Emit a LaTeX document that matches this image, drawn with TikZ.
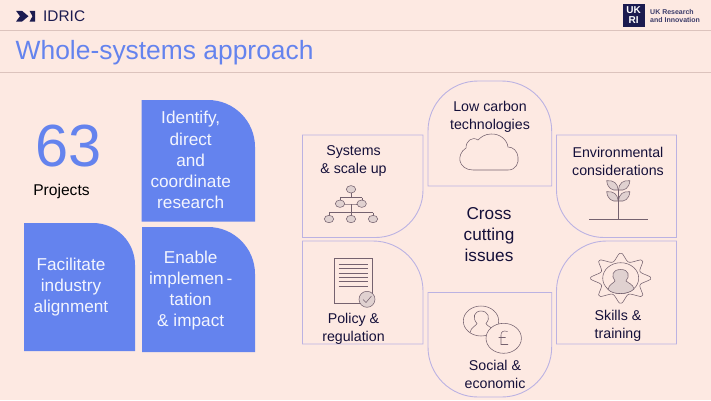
\documentclass[tikz,border=0pt]{standalone}
\usepackage{fontspec}
\setmainfont{Liberation Sans}
\definecolor{bgc}{HTML}{FDE9E2}
\definecolor{bluec}{HTML}{6483EE}
\definecolor{edgec}{HTML}{BBB2E2}
\definecolor{rulec}{HTML}{DCC3BD}
\definecolor{inkc}{HTML}{15103A}
\definecolor{iconc}{HTML}{75626F}
\definecolor{iconf}{HTML}{E0D1D0}
\definecolor{navyc}{HTML}{1B1B50}
\tikzset{
  lab/.style={inner sep=0pt,align=center,text=inkc,font=\fontsize{14.2}{18}\selectfont},
  wlab/.style={inner sep=0pt,align=center,text=white!92!bluec,font=\fontsize{17.2}{21.2}\selectfont},
  tile/.style={fill=bluec,draw=none},
  frame/.style={draw=edgec,line width=0.9pt,line join=miter},
  ico/.style={draw=iconc,line width=0.55pt},
  icof/.style={draw=iconc,fill=iconf,line width=0.55pt}
}
\begin{document}
\begin{tikzpicture}[x=1pt,y=-1pt]
\useasboundingbox (0,0) rectangle (711,400);
\fill[bgc] (0,0) rectangle (711,400);
% header
\draw[rulec,line width=0.7pt] (0,30.3) -- (711,30.3);
\draw[rulec,line width=0.7pt] (0,72.3) -- (711,72.3);
\fill[navyc] (16,10.8) -- (22,10.8) -- (28.5,16.2) -- (22,21.6) -- (16,21.6) -- (20,16.2) -- cycle;
\fill[navyc] (29.5,10.8) -- (35,10.8) -- (35,21.6) -- (29.5,21.6) -- (32.5,16.2) -- cycle;
\node[inner sep=0pt,anchor=west,text=navyc,font=\fontsize{15.4}{18}\selectfont] (brand) at (43,16) {IDRIC};
\node[inner sep=0pt,anchor=west,text=bluec,font=\fontsize{26.4}{30}\selectfont] (title) at (15.5,53) {Whole-systems approach};
\fill[navyc] (622.7,4) rectangle (644.5,26.7);
\node[inner sep=0pt,text=white,font=\bfseries\fontsize{10}{10}\selectfont] (lgu) at (633.6,10.5) {UK};
\node[inner sep=0pt,text=white,font=\bfseries\fontsize{10}{10}\selectfont] (lgr) at (633.6,20.5) {RI};
\node[inner sep=0pt,anchor=west,align=left,text=navyc!85!white,font=\bfseries\fontsize{7}{8}\selectfont] (lgt) at (650,16) {UK Research\\and Innovation};
% left
\node[inner sep=0pt,text=bluec,font=\fontsize{59.5}{60}\selectfont] (num) at (69,146.5) {63};
\node[inner sep=0pt,text=black,font=\fontsize{15.6}{18}\selectfont] (proj) at (61.5,191) {Projects};
\path[tile] (141.5,100) -- (208,100) arc[start angle=-90,end angle=0,x radius=47,y radius=47] -- (255,221.5) -- (141.5,221.5) -- cycle;
\path[tile] (24,223) -- (93,223) arc[start angle=-90,end angle=0,x radius=42,y radius=42] -- (135,351) -- (24,351) -- cycle;
\path[tile] (142,227) -- (208,227) arc[start angle=-90,end angle=0,x radius=47,y radius=47] -- (255,352) -- (142,352) -- cycle;
\node[wlab] (t1) at (190.7,160.2) {Identify,\\direct\\and\\coordinate\\research};
\node[wlab] (t2) at (71,287) {Facilitate\\industry\\alignment};
\node[wlab] (t3) at (190.7,290.7) {Enable\\implemen\,-\\tation\\\& impact};
% right frames
\draw[frame] (302.5,135) -- (423,135) -- (423,190) arc[start angle=0,end angle=90,x radius=47.5,y radius=47.5] -- (302.5,237.5) -- cycle;
\draw[frame] (428,186) -- (428,131) arc[start angle=180,end angle=270,x radius=50,y radius=50] -- (501.7,81) arc[start angle=-90,end angle=0,x radius=50,y radius=50] -- (551.7,186) -- cycle;
\draw[frame] (556.5,135) -- (676.5,135) -- (676.5,237.5) -- (604,237.5) arc[start angle=90,end angle=180,x radius=47.5,y radius=47.5] -- cycle;
\draw[frame] (302.5,241) -- (373,241) arc[start angle=-90,end angle=0,x radius=50,y radius=50] -- (423,344) -- (302.5,344) -- cycle;
\draw[frame] (428,292.5) -- (551.7,292.5) -- (551.7,347) arc[start angle=0,end angle=90,x radius=50,y radius=50] -- (478,397) arc[start angle=90,end angle=180,x radius=50,y radius=50] -- cycle;
\draw[frame] (556.5,291) arc[start angle=180,end angle=270,x radius=50,y radius=50] -- (676.5,241) -- (676.5,344) -- (556.5,344) -- cycle;
% labels
\node[lab] (a) at (353.5,161.5) {Systems\\\& scale up};
\node[lab] (b) at (490,116.5) {Low carbon\\technologies};
\node[lab] (c) at (618,161.5) {Environmental\\considerations};
\node[lab] (d) at (353.5,329) {Policy \&\\regulation};
\node[lab] (e) at (495,374.5) {Social \&\\economic};
\node[lab] (f) at (618,325.5) {Skills \&\\training};
\node[inner sep=0pt,align=center,text=inkc,font=\fontsize{17.2}{21}\selectfont] (g) at (489,235) {Cross\\cutting\\issues};
% tree icon
\draw[ico] (351,189) -- (351,197.5) (340,197.5) -- (362,197.5) (340,197.5) -- (340,204) (362,197.5) -- (362,204);
\draw[ico] (351,204) -- (351,212.5) (329,212.5) -- (373,212.5) (329,212.5) -- (329,219) (351,212.5) -- (351,219) (373,212.5) -- (373,219) (340,204) -- (351,204) -- (362,204);
\foreach \px/\py in {351/189.3,340/203.7,361.7/203.7,329/219,351/219,373/219}
  \draw[icof] (\px,\py) ellipse[x radius=4.7,y radius=3.7];
% cloud icon
\draw[ico] (473,170) -- (508,170)
  .. controls (516,170) and (519,163) .. (518,157)
  .. controls (517.5,151) and (513,147) .. (508,147)
  .. controls (507,139) and (499,133.5) .. (491,134)
  .. controls (485,134) and (481,137) .. (478,140)
  .. controls (472,136) and (466,141) .. (466,148)
  .. controls (461,151) and (459,157) .. (460,161)
  .. controls (461,166) and (466,170) .. (473,170);
% plant icon
\foreach \ly in {190,201}{
  \foreach \sx in {-1,1}{
    \begin{scope}[shift={(618.3,\ly)},xscale=\sx]
      \draw[icof] (0,0) .. controls (-0.9,-7) and (-4.7,-10) .. (-11.6,-9.3) .. controls (-10.7,-2) and (-6.9,1) .. (0,0);
    \end{scope}
  }
}
\draw[ico] (589,219.3) -- (648,219.3) (618.3,219.3) -- (618.3,190);
% document icon
\draw[ico] (334.3,258.3) rectangle (372.7,303.3);
\foreach \ly in {264.3,268.7,273,277.3,281.7,286}
  \draw[ico] (338.7,\ly) -- (367.7,\ly);
\draw[icof] (367,299.3) circle[radius=8];
\draw[ico] (363,299.5) -- (366,302.5) -- (371.5,296);
% people and coin icon
\draw[ico] (481,321) ellipse[x radius=17.7,y radius=15];
\draw[ico] (470,332.5) .. controls (471,327) and (476,326) .. (477,323.5) .. controls (472,318) and (474,311) .. (481,311) .. controls (488,311) and (491,318) .. (486,323.5) .. controls (487,326) and (491,327) .. (494,330);
\draw[ico,fill=bgc] (503.7,338.3) ellipse[x radius=17.7,y radius=15];
\draw[ico] (507.5,331.5) .. controls (503,330) and (501,332) .. (501,335) -- (501,344.5) -- (508,344.5) (498.5,337.5) -- (505.5,337.5);
% gear icon
\draw[ico] plot[domain=0:360,samples=181,smooth] ({620.7+min(30,32-11*abs(sin(4*\x)))*cos(\x)},{278.2+0.83*min(30,32-11*abs(sin(4*\x)))*sin(\x)}) -- cycle;
\draw[ico] (620.7,278.2) ellipse[x radius=18,y radius=15.5];
\draw[icof] (608,289.5) .. controls (609,284) and (614,283) .. (615,281) .. controls (611,276) and (612,269.5) .. (620.7,269.5) .. controls (629,269.5) and (630,276) .. (626,281) .. controls (628,283) and (633,284) .. (634,289) .. controls (628,295) and (613,295) .. (608,289.5) -- cycle;
\end{tikzpicture}
\end{document}
